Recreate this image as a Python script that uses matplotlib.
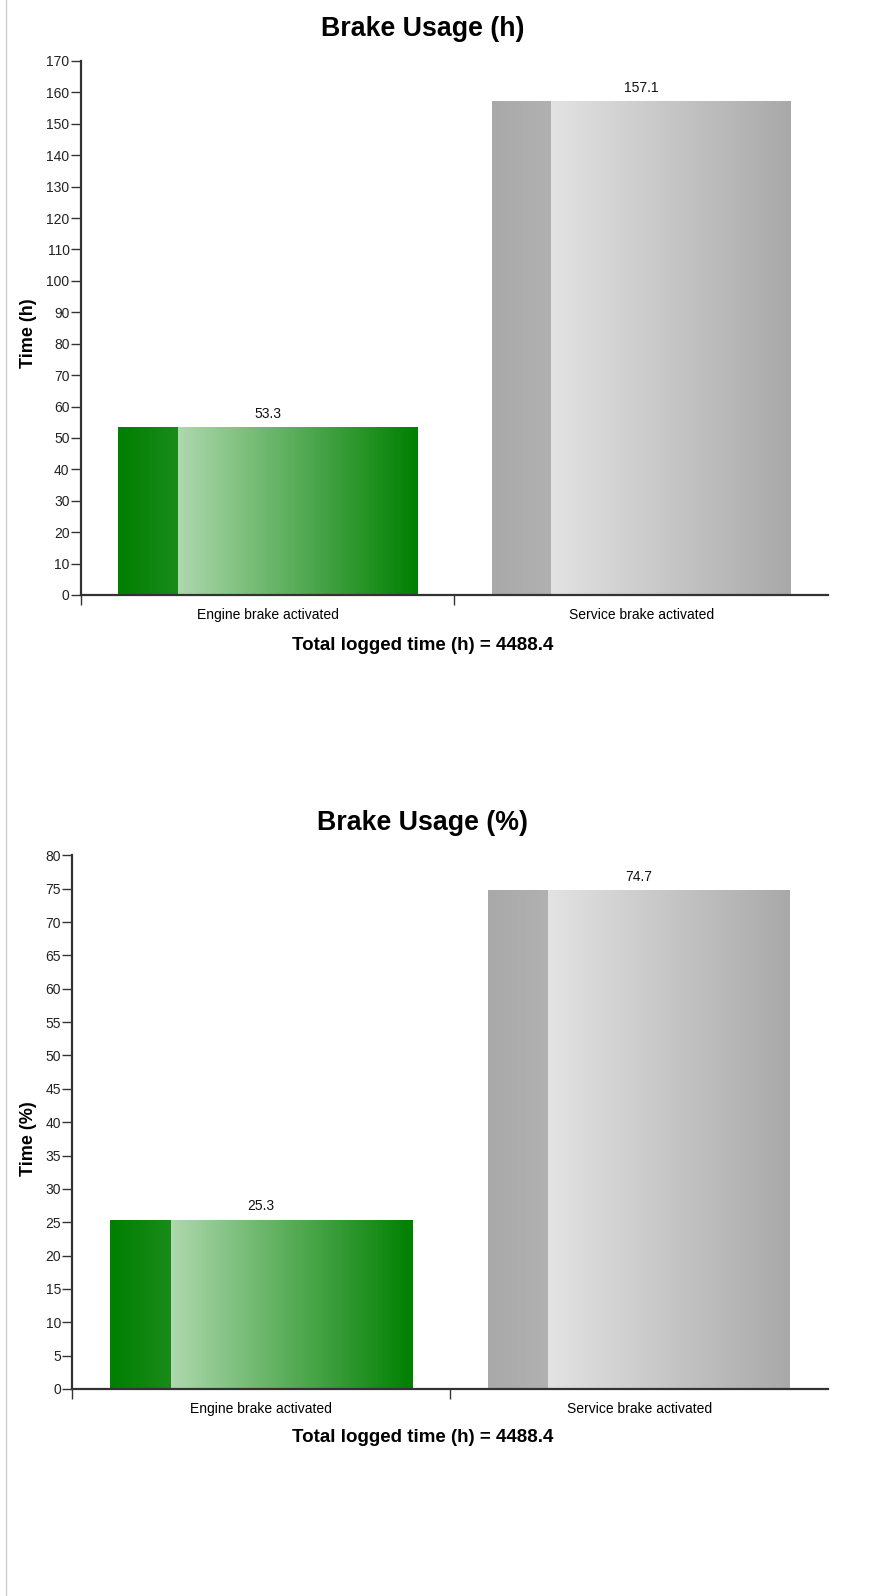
import numpy as np
import matplotlib
matplotlib.use("Agg")
import matplotlib.pyplot as plt
from matplotlib.colors import LinearSegmentedColormap
from matplotlib.lines import Line2D

plt.rcParams['font.family'] = ['Liberation Sans', 'DejaVu Sans']

# data
categories = ["Engine brake activated", "Service brake activated"]
hours = [53.3, 157.1]
percent = [25.3, 74.7]
total_hours = 4488.4

W, H = 886, 1596
fig = plt.figure(figsize=(W / 100, H / 100), dpi=100)

# bar fill: (strip from, strip to, main from, main to)
fills = [("#007f00", "#1a8b1a", "#aed8ae", "#008000"),
         ("#a9a9a9", "#b1b1b1", "#e3e3e3", "#a9a9a9")]


def px_axes(left, right, top, bottom):
    return fig.add_axes([left / W, 1 - bottom / H, (right - left) / W, (bottom - top) / H])


def grad(ax, x0, x1, h, c0, c1):
    cmap = LinearSegmentedColormap.from_list("g", [c0, c1])
    img = np.linspace(0, 1, 256).reshape(1, -1)
    ax.imshow(img, cmap=cmap, extent=[x0, x1, 0, h], aspect='auto', zorder=2,
              interpolation='bilinear')


def draw(ax, values, ymax, step):
    bars = ax.bar(range(len(values)), values, width=0.8, color='none', edgecolor='none')
    for b, f in zip(bars, fills):
        x0, w, h = b.get_x(), b.get_width(), b.get_height()
        grad(ax, x0, x0 + 0.2 * w, h, f[0], f[1])
        grad(ax, x0 + 0.2 * w, x0 + w, h, f[2], f[3])
        ax.annotate(f"{h:.1f}", (x0 + w / 2, h), xytext=(0, 5), textcoords='offset points',
                    ha='center', va='bottom', fontsize=10, color='#111111')
    ax.set_xlim(-0.5, len(values) - 0.5)
    ax.set_ylim(0, ymax)
    ax.set_yticks(np.arange(0, ymax + 1, step))
    ax.set_xticks([-0.5, 0.5])
    ax.set_xticklabels([])
    ax.set_xticks(range(len(values)), minor=True)
    ax.set_xticklabels(categories, minor=True, fontsize=10)
    ax.tick_params(axis='x', which='minor', length=0, pad=9.5)
    ax.tick_params(axis='x', which='major', length=7, width=1, color='#333333')
    ax.tick_params(axis='y', length=7, width=1, color='#333333', labelsize=10, pad=1,
                   labelcolor='#222222')
    for s in ['top', 'right']:
        ax.spines[s].set_visible(False)
    for s in ['left', 'bottom']:
        ax.spines[s].set_linewidth(1.6)
        ax.spines[s].set_color('#333333')


ax1 = px_axes(80.7, 828, 61, 595)
draw(ax1, hours, 170, 10)
ax2 = px_axes(72.3, 828, 855.3, 1389)
draw(ax2, percent, 80, 5)

fig.text(28.5 / W, 1 - 333 / H, "Time (h)", rotation=90, ha='center', va='center',
         fontsize=13, fontweight='bold')
fig.text(28.5 / W, 1 - 1139 / H, "Time (%)", rotation=90, ha='center', va='center',
         fontsize=13, fontweight='bold')

fig.text(422.5 / W, 1 - 29 / H, "Brake Usage (h)", ha='center', va='center',
         fontsize=19.3, fontweight='bold')
fig.text(422.5 / W, 1 - 645 / H, f"Total logged time (h) = {total_hours}", ha='center',
         va='center', fontsize=13.5, fontweight='bold')
fig.text(422.5 / W, 1 - 823 / H, "Brake Usage (%)", ha='center', va='center',
         fontsize=19.3, fontweight='bold')
fig.text(422.5 / W, 1 - 1438 / H, f"Total logged time (h) = {total_hours}", ha='center',
         va='center', fontsize=13.5, fontweight='bold')

# left page border
fig.add_artist(Line2D([5.5 / W, 5.5 / W], [1 - 1595 / H, 1], transform=fig.transFigure,
                      color='#cccccc', lw=1))

fig.savefig("out.png", dpi=100)
